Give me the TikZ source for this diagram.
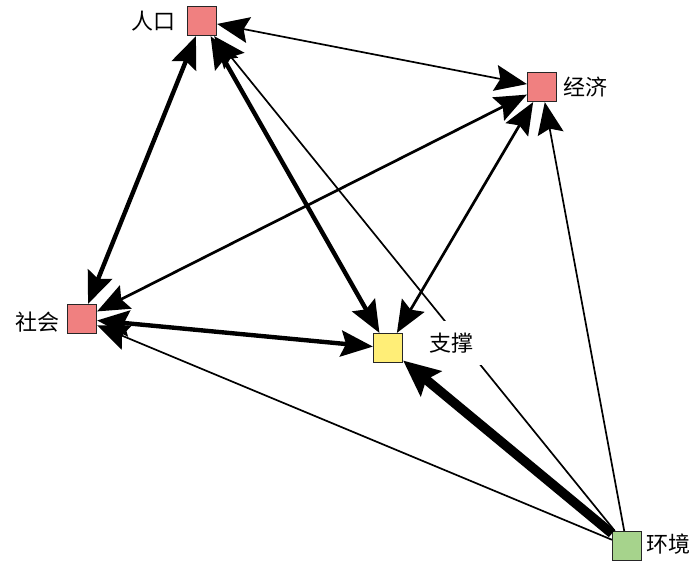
\documentclass[tikz,border=0pt]{standalone}
\usepackage{fontspec}
\newfontfamily\cjk{Noto Sans CJK SC}
\usetikzlibrary{arrows.meta}
\definecolor{pinkbox}{HTML}{F08080}
\definecolor{yellowbox}{HTML}{FFEE77}
\definecolor{greenbox}{HTML}{A6D38C}
\tikzset{
  sq/.style={draw=black!85, line width=1.2pt, minimum size=29pt, inner sep=0pt},
  lbl/.style={font=\cjk\fontsize{22}{26}\selectfont, inner sep=0pt},
  bighead/.tip={Stealth[length=32pt,width=26pt,inset=5pt]},
  onehead/.style={-bighead},
  twoheads/.style={bighead-bighead},
  thinline/.style={line width=1.7pt},
  midline/.style={line width=2.7pt},
  thickline/.style={line width=4.4pt},
  heavyline/.style={line width=9.5pt},
}
\begin{document}
\begin{tikzpicture}[x=1pt,y=-1pt]
\useasboundingbox[fill=white] (0,0) rectangle (700,566);
\node[sq, fill=pinkbox] (rk) at (202,21) {};
\node[sq, fill=pinkbox] (jj) at (542,87) {};
\node[sq, fill=pinkbox] (sh) at (82,319) {};
\node[sq, fill=yellowbox] (zc) at (388,348) {};
\node[sq, fill=greenbox] (hj) at (627,546) {};
% connectors
\draw[thinline, onehead] (hj) -- (rk);
\node[lbl, fill=white, minimum height=44pt, minimum width=66pt] (zcl) at (451,343) {支撑};
\draw[thinline, twoheads] (rk) -- (jj);
\draw[thickline, twoheads] (rk) -- (sh);
\draw[thickline, twoheads] (rk) -- (zc);
\draw[midline, twoheads] (jj) -- (sh);
\draw[midline, twoheads] (jj) -- (zc);
\draw[thinline, onehead] (hj) -- (jj);
\draw[thinline, onehead] (hj) -- (sh);
\draw[thickline, twoheads] (sh) -- (zc);
\draw[heavyline, -{Stealth[length=36pt,width=32pt,inset=6pt]}] (hj) -- (zc);
% labels
\node[lbl, anchor=east, xshift=-11pt] (rkl) at (rk.west) {人口};
\node[lbl, anchor=west, xshift=6pt] (jjl) at (jj.east) {经济};
\node[lbl, anchor=east, xshift=-7pt, yshift=-3pt] (shl) at (sh.west) {社会};
\node[lbl, anchor=west, xshift=4pt, yshift=2pt] (hjl) at (hj.east) {环境};
\end{tikzpicture}
\end{document}
